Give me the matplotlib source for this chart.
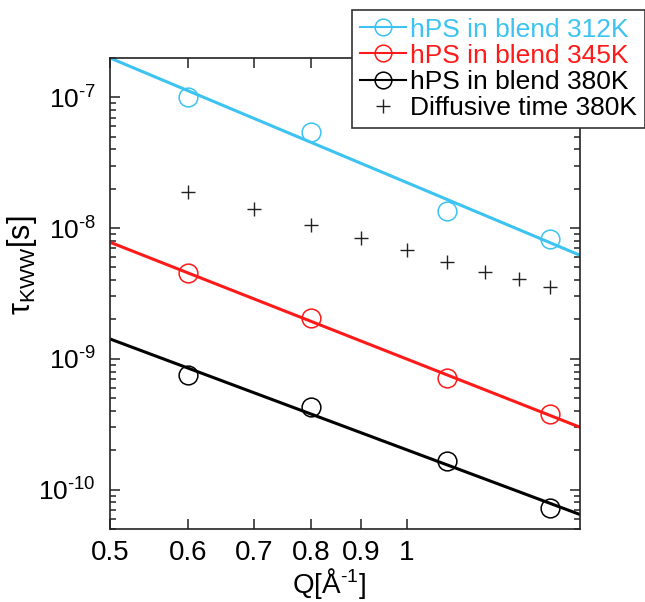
import numpy as np
import matplotlib
matplotlib.use("Agg")
import matplotlib.pyplot as plt
from matplotlib.ticker import FixedLocator, NullLocator, LogLocator, FixedFormatter

plt.rcParams['font.family'] = ['Liberation Sans', 'DejaVu Sans']
plt.rcParams['mathtext.fontset'] = 'custom'
plt.rcParams['mathtext.rm'] = 'Liberation Sans'
plt.rcParams['mathtext.it'] = 'Liberation Sans'
plt.rcParams['mathtext.bf'] = 'Liberation Sans:bold'

# Measured relaxation times (KWW) at each Q
q = [0.6, 0.8, 1.1, 1.4]
tau_312 = [1.0e-7, 5.4e-8, 1.35e-8, 8.2e-9]
tau_345 = [4.5e-9, 2.05e-9, 7.2e-10, 3.8e-10]
tau_380 = [7.55e-10, 4.3e-10, 1.66e-10, 7.2e-11]

# Power-law fit lines, read at the axis ends
fit_q = [0.5, 1.5]
fit_312 = [2.0e-7, 6.2e-9]
fit_345 = [7.8e-9, 3.0e-10]
fit_380 = [1.42e-9, 6.45e-11]

# Diffusive time at 380K
q_diff = [0.6, 0.7, 0.8, 0.9, 1.0, 1.1, 1.2, 1.3, 1.4]
tau_diff = [1.88e-8, 1.40e-8, 1.05e-8, 8.4e-9, 6.8e-9, 5.5e-9, 4.6e-9, 4.1e-9, 3.55e-9]

x_ticks = [0.5, 0.6, 0.7, 0.8, 0.9, 1.0]
x_ticklabels = ['0.5', '0.6', '0.7', '0.8', '0.9', '1']
y_ticks = [1e-10, 1e-9, 1e-8, 1e-7]
y_ticklabels = [r'10$^{\text{-10}}$', r'10$^{\text{-9}}$',
                r'10$^{\text{-8}}$', r'10$^{\text{-7}}$']

cyan = '#3cc3f2'
red = '#ff1a1a'
black = '#000000'

fig = plt.figure(figsize=(6.45, 6.02), dpi=100)
ax = fig.add_axes([0.1705, 0.1213, 0.7287, 0.7824])

series = [
    (tau_312, fit_312, cyan, 'hPS in blend 312K'),
    (tau_345, fit_345, red, 'hPS in blend 345K'),
    (tau_380, fit_380, black, 'hPS in blend 380K'),
]
for tau, fit, c, lab in series:
    ax.plot(fit_q, fit, color=c, lw=2.2, solid_capstyle='butt')
    ax.plot(q, tau, ls='none', marker='o', ms=13.5, mfc='none', mec=c, mew=1.1)
    # proxy for the legend (line + open circle)
    ax.plot([], [], color=c, lw=1.5, marker='o', ms=12, mfc='none', mec=c,
            mew=1.1, label=lab)

ax.plot(q_diff, tau_diff, ls='none', marker='+', ms=10, mew=1.0,
        color='#222222', label='Diffusive time 380K')

ax.set_xscale('log')
ax.set_yscale('log')
ax.set_xlim(0.5, 1.5)
ax.set_ylim(5e-11, 2e-7)

ax.xaxis.set_major_locator(FixedLocator(x_ticks))
ax.xaxis.set_major_formatter(FixedFormatter(x_ticklabels))
ax.xaxis.set_minor_locator(NullLocator())
ax.yaxis.set_major_locator(FixedLocator(y_ticks))
ax.yaxis.set_major_formatter(FixedFormatter(y_ticklabels))
ax.yaxis.set_minor_locator(LogLocator(base=10, subs=np.arange(2, 10), numticks=10))

ax.tick_params(which='both', direction='in', top=True, right=True,
               color='#222222', width=1.1)
ax.tick_params(which='major', length=7, pad=8)
ax.tick_params(which='minor', length=4)
ax.tick_params(axis='x', labelsize=20)
ax.tick_params(axis='y', labelsize=19, pad=10)
for sp in ax.spines.values():
    sp.set_linewidth(1.2)
    sp.set_color('#222222')

ax.set_xlabel(r'Q[Å$^{\text{-1}}$]', fontsize=20)
ax.xaxis.set_label_coords(0.465, -0.078, transform=ax.transAxes)
ax.xaxis.label.set_va('top')
ax.set_ylabel(r'$\tau_{\mathrm{KWW}}$[s]', fontsize=22)
ax.yaxis.set_label_coords(-0.15, 0.56, transform=ax.transAxes)

leg = ax.legend(loc='upper right', bbox_to_anchor=(1.0, 0.984),
                bbox_transform=fig.transFigure, fontsize=19,
                frameon=True, fancybox=False, edgecolor='#333333',
                framealpha=1, borderpad=0.3, labelspacing=0.08,
                handlelength=1.75, handletextpad=0.15, borderaxespad=0)
leg.get_frame().set_linewidth(1.2)
leg.set_zorder(10)
for txt, c in zip(leg.get_texts(), [cyan, red, black, black]):
    txt.set_color(c)

fig.savefig('out.png', dpi=100)
